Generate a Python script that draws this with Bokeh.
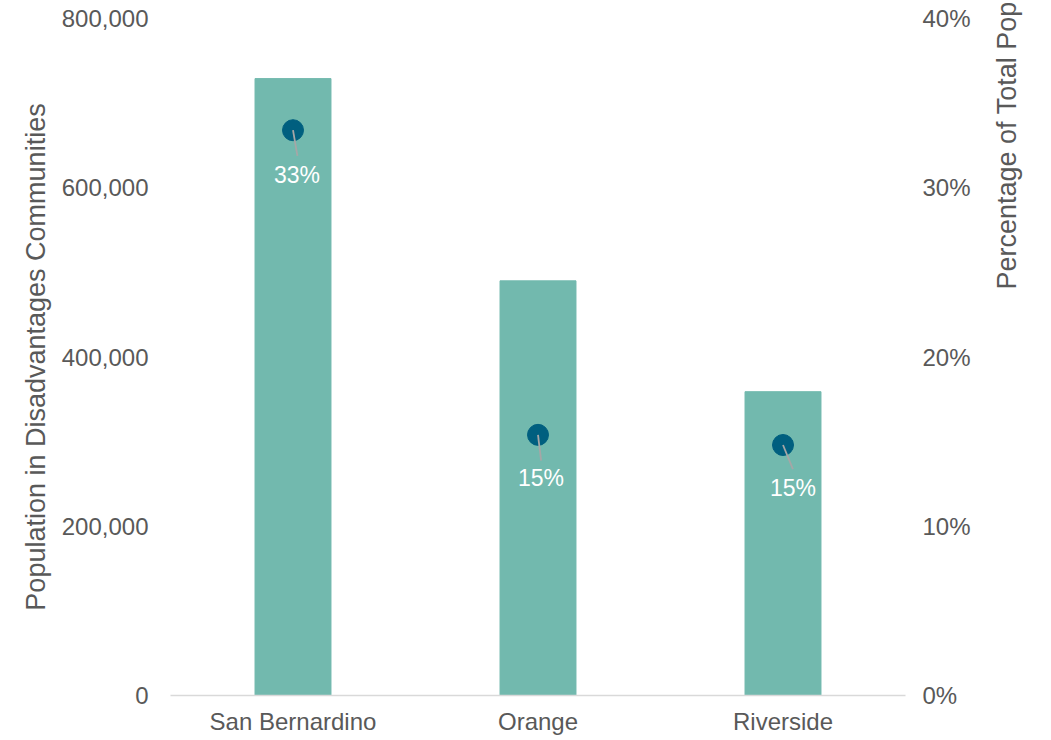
import math
from bokeh.plotting import figure
from bokeh.models import (ColumnDataSource, FactorRange, Range1d, LinearAxis,
                          NumeralTickFormatter, PrintfTickFormatter, FixedTicker)
from bokeh.core.properties import value
from bokeh.embed import file_html
from bokeh.resources import INLINE

# ---- data ----
counties = ["San Bernardino", "Orange", "Riverside"]
population = [729000, 490000, 359000]
pct_of_total = [33.4, 15.4, 14.8]
left_ticks = [0, 200000, 400000, 600000, 800000]
right_ticks = [0, 10, 20, 30, 40]
left_title = "Population in Disadvantages Communities"
right_title = "Percentage of Total Population %"

# ---- styles ----
FONT = "Liberation Sans"
TXT = "#595959"
BAR = "#72B9AE"
DOT = "#005F7F"
RIGHT_TITLE_PAD = "\u00a0" * 9   # pushes the right title toward the top, as in the reference

src = ColumnDataSource(dict(
    county=counties,
    pop=population,
    pct=pct_of_total,
    lbl=[f"{v:.0f}%" for v in pct_of_total],
    lx=[4, 3, 10],
    ly=[45, 43, 43],
    ang=[-1.40, -1.45, -1.18],
))

p = figure(width=1051, height=740, output_backend="svg", toolbar_location=None,
           x_range=FactorRange(*counties, range_padding=0),
           y_range=Range1d(0, 800000),
           min_border_left=170, min_border_right=146,
           min_border_top=18, min_border_bottom=45)
p.extra_y_ranges = {"pct": Range1d(0, 40)}
p.outline_line_color = None
p.xgrid.grid_line_color = None
p.ygrid.grid_line_color = None
p.background_fill_color = "white"
p.border_fill_color = "white"

p.vbar(x="county", top="pop", width=0.31, color=BAR, source=src)
p.scatter(x="county", y="pct", size=21, color=DOT, y_range_name="pct", source=src)
p.ray(x="county", y="pct", length=26, length_units="screen", angle="ang",
      line_color="#A6A6A6", line_width=1.8, y_range_name="pct", source=src)
p.text(x="county", y="pct", text="lbl", x_offset="lx", y_offset="ly",
       text_align="center", text_baseline="middle", text_color="white",
       text_font=value(FONT), text_font_size="23px", y_range_name="pct", source=src)

# left axis
ya = p.yaxis[0]
ya.ticker = FixedTicker(ticks=left_ticks)
ya.formatter = NumeralTickFormatter(format="0,0")
ya.axis_line_color = None
ya.major_tick_out = 0
ya.major_tick_in = 0
ya.minor_tick_out = 0
ya.minor_tick_in = 0
ya.major_label_standoff = 22
ya.major_label_text_font = FONT
ya.major_label_text_font_size = "24px"
ya.major_label_text_color = TXT
ya.axis_label = left_title
ya.axis_label_text_font = FONT
ya.axis_label_text_font_size = "27px"
ya.axis_label_text_font_style = "normal"
ya.axis_label_text_color = TXT
ya.axis_label_standoff = 8

# right axis
ra = LinearAxis(y_range_name="pct", ticker=FixedTicker(ticks=right_ticks),
                formatter=PrintfTickFormatter(format="%d%%"))
ra.axis_line_color = None
ra.major_tick_out = 0
ra.major_tick_in = 0
ra.minor_tick_out = 0
ra.minor_tick_in = 0
ra.major_label_standoff = 17
ra.major_label_text_font = FONT
ra.major_label_text_font_size = "24px"
ra.major_label_text_color = TXT
ra.axis_label = RIGHT_TITLE_PAD + right_title
ra.axis_label_text_font = FONT
ra.axis_label_text_font_size = "27px"
ra.axis_label_text_font_style = "normal"
ra.axis_label_text_color = TXT
ra.axis_label_standoff = 33
ra.axis_label_orientation = math.pi / 2
ra.axis_label_align = "center"
p.add_layout(ra, "right")

# bottom axis
xa = p.xaxis[0]
xa.axis_line_color = "#D9D9D9"
xa.axis_line_width = 1.5
xa.major_tick_out = 0
xa.major_tick_in = 0
xa.major_label_standoff = 12
xa.major_label_text_font = FONT
xa.major_label_text_font_size = "24px"
xa.major_label_text_color = TXT

open("out.html", "w").write(file_html(p, INLINE))
